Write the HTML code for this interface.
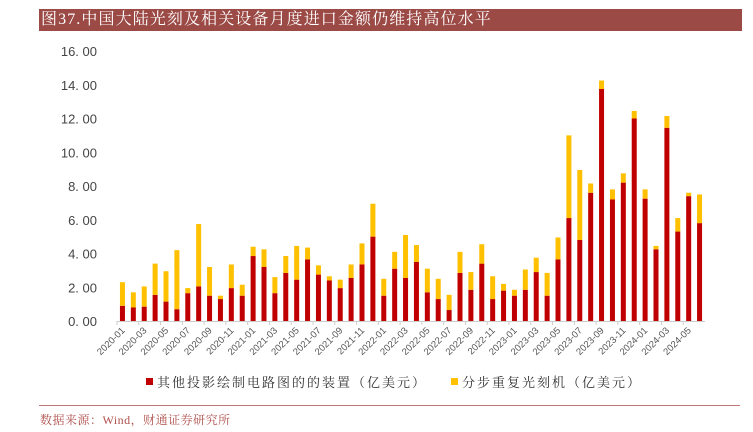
<!DOCTYPE html>
<html><head><meta charset="utf-8"><style>
body{margin:0;width:753px;height:432px;background:#fff;overflow:hidden;font-family:"Liberation Sans","Noto Sans CJK SC",sans-serif}
#title{position:absolute;left:39px;top:9px;width:701px;height:22px;background:#9b4a46;color:#fff;font-family:"Liberation Serif","Noto Serif CJK SC",serif;font-size:16px;line-height:22px;padding-left:2px;letter-spacing:1.1px}
#src{position:absolute;left:40px;top:411px;font-family:"Liberation Serif","Noto Serif CJK SC",serif;font-size:12px;color:#b0504c;letter-spacing:0.5px}
#rule{position:absolute;left:39px;top:405px;width:701px;height:1px;background:#c07a77}
svg{position:absolute;left:0;top:0}
</style></head><body>
<div id="title">图37.中国大陆光刻及相关设备月度进口金额仍维持高位水平</div>
<svg id="c" width="753" height="432"></svg>
<div id="rule"></div>
<div id="src">数据来源：Wind，财通证券研究所</div>
<script>
const categories=[];for(let y=2020;y<=2024;y++)for(let m=1;m<=12;m++){if(y===2024&&m>6)break;categories.push(y+'-'+String(m).padStart(2,'0'));}
const redVals=[0.9,0.8,0.85,1.55,1.15,0.7,1.65,2.05,1.5,1.3,1.95,1.5,3.85,3.2,1.65,2.85,2.45,3.65,2.75,2.4,1.95,2.55,3.35,5.0,1.5,3.1,2.55,3.5,1.7,1.3,0.65,2.85,1.85,3.4,1.3,1.8,1.5,1.85,2.9,1.5,3.65,6.1,4.8,7.6,13.75,7.2,8.2,12.0,7.25,4.25,11.45,5.3,7.4,5.8];
const totalVals=[2.3,1.7,2.05,3.4,2.95,4.2,1.95,5.75,3.2,1.5,3.35,2.15,4.4,4.25,2.6,3.85,4.45,4.35,3.3,2.65,2.45,3.35,4.6,6.95,2.5,4.1,5.1,4.5,3.1,2.5,1.55,4.1,2.9,4.55,2.65,2.2,1.85,3.05,3.75,2.85,4.95,11.0,8.95,8.15,14.25,7.8,8.75,12.45,7.8,4.45,12.15,6.1,7.6,7.5];
const yellowVals=totalVals.map((t,i)=>Math.max(0,t-redVals[i]));
const yTicks=[0,2,4,6,8,10,12,14,16];
const svg=document.getElementById('c');const NS='http://www.w3.org/2000/svg';
const x0=117,x1=705,yb=321,yt=51;
const step=(x1-x0)/categories.length;
const X=i=>x0+step*(i+0.5);const Y=v=>yb-(v/16)*(yb-yt);
function el(t,a,p){const e=document.createElementNS(NS,t);for(const k in a)e.setAttribute(k,a[k]);(p||svg).appendChild(e);return e;}
yTicks.forEach(t=>{const e=el('text',{x:97,y:Y(t)+5,'text-anchor':'end','font-size':13,fill:'#444'});e.textContent=t.toFixed(2).replace('.','. ');

});
const ax=el('line',{x1:x0,x2:x1,y1:yb+0.5,y2:yb+0.5,stroke:'#ccc'});


const bw=5;
categories.forEach((c,i)=>{
 const r=el('rect',{x:X(i)-bw/2,y:Y(redVals[i]),width:bw,height:yb-Y(redVals[i]),fill:'#c00000'});
 
 
 const yv=el('rect',{x:X(i)-bw/2,y:Y(redVals[i]+yellowVals[i]),width:bw,height:Y(redVals[i])-Y(redVals[i]+yellowVals[i]),fill:'#ffc000'});
 
 
 if(i%2===0){
  const tk=el('line',{x1:X(i)-step/2,x2:X(i)-step/2,y1:yb,y2:yb+4,stroke:'#ccc'});
  
  
  const tx=X(i)+3,ty=yb+10;
  const t=el('text',{x:tx,y:ty,'text-anchor':'end','font-size':9.5,fill:'#555',transform:`rotate(-45 ${tx} ${ty})`});t.textContent=c;
  
  
 }
});
const lg=[[146,'#c00000','其他投影绘制电路图的的装置（亿美元）'],[451,'#ffc000','分步重复光刻机（亿美元）']];
lg.forEach(l=>{const s=el('rect',{x:l[0],y:378,width:7,height:7,fill:l[1]});


const t=el('text',{x:l[0]+11,y:387,'font-size':13,fill:'#333','letter-spacing':'2','font-family':'"Liberation Serif","Noto Serif CJK SC",serif'});t.textContent=l[2];

});
</script>
</body></html>
